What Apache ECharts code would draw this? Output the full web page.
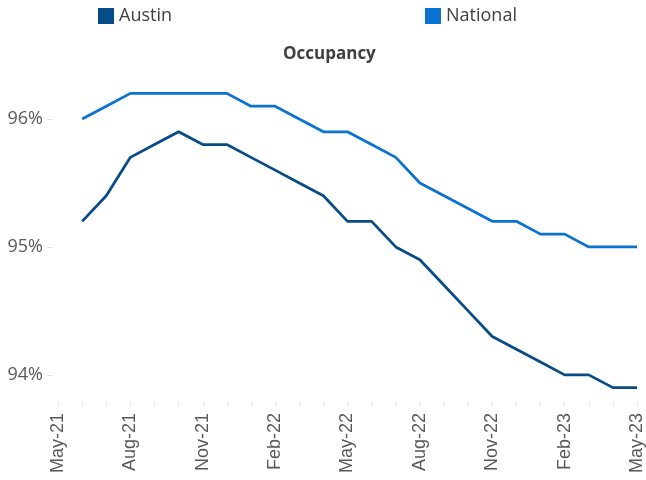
<!DOCTYPE html>
<html>
<head>
<meta charset="utf-8">
<script src="https://cdn.jsdelivr.net/npm/echarts@6/dist/echarts.min.js"></script>
<style>
html,body{margin:0;padding:0;background:#fff;}
#chart{width:646px;height:480px;}
</style>
</head>
<body>
<div id="chart"></div>
<script>
// Monthly categories (axis spans May-21 .. May-23)
const months = ['May-21','Jun-21','Jul-21','Aug-21','Sep-21','Oct-21','Nov-21','Dec-21',
  'Jan-22','Feb-22','Mar-22','Apr-22','May-22','Jun-22','Jul-22','Aug-22','Sep-22','Oct-22',
  'Nov-22','Dec-22','Jan-23','Feb-23','Mar-23','Apr-23','May-23'];
// Occupancy (%), no reading shown for May-21
const austin = [null, 95.2, 95.4, 95.7, 95.8, 95.9, 95.8, 95.8, 95.7, 95.6, 95.5, 95.4, 95.2,
  95.2, 95.0, 94.9, 94.7, 94.5, 94.3, 94.2, 94.1, 94.0, 94.0, 93.9, 93.9];
const national = [null, 96.0, 96.1, 96.2, 96.2, 96.2, 96.2, 96.2, 96.1, 96.1, 96.0, 95.9, 95.9,
  95.8, 95.7, 95.5, 95.4, 95.3, 95.2, 95.2, 95.1, 95.1, 95.0, 95.0, 95.0];
const yTicks = [94, 95, 96];

const chart = echarts.init(document.getElementById('chart'), null, {renderer: 'canvas'});
chart.setOption({
  animation: false,
  backgroundColor: '#ffffff',
  title: {
    text: 'Occupancy',
    left: 283, top: 46, padding: 0,
    textStyle: {fontFamily: 'Open Sans', fontSize: 17, fontWeight: 'bold', color: '#404040'}
  },
  legend: {
    left: 98, top: 7, padding: 0,
    itemWidth: 16, itemHeight: 16, itemGap: 253,
    icon: 'rect',
    textStyle: {fontFamily: 'Open Sans', fontSize: 18, color: '#404040'},
    data: ['Austin', 'National']
  },
  grid: {left: 58, right: 6, top: 55, bottom: 77, containLabel: false},
  xAxis: {
    type: 'category',
    data: months,
    boundaryGap: false,
    axisLine: {show: false},
    axisTick: {show: true, interval: 0, length: 4, lineStyle: {color: '#e6e6e6', width: 1}},
    axisLabel: {
      interval: 2, rotate: 90, margin: 10,
      fontFamily: 'Liberation Sans', fontSize: 18, color: '#595959'
    },
    splitLine: {show: false}
  },
  yAxis: {
    type: 'value',
    min: 93.78, max: 96.5,
    offset: 5,
    axisLine: {show: false},
    axisTick: {show: true, length: 6, customValues: yTicks, lineStyle: {color: '#e6e6e6'}},
    axisLabel: {
      customValues: yTicks, margin: 10,
      formatter: v => Math.round(v) + '%',
      fontFamily: 'Open Sans', fontSize: 18, color: '#595959'
    },
    splitLine: {show: false}
  },
  series: [
    {
      name: 'Austin', type: 'line', data: austin, symbol: 'none',
      lineStyle: {color: '#074b87', width: 2.75}, itemStyle: {color: '#074b87'}
    },
    {
      name: 'National', type: 'line', data: national, symbol: 'none',
      lineStyle: {color: '#0a72d0', width: 2.75}, itemStyle: {color: '#0a72d0'}
    }
  ]
});
</script>
</body>
</html>
